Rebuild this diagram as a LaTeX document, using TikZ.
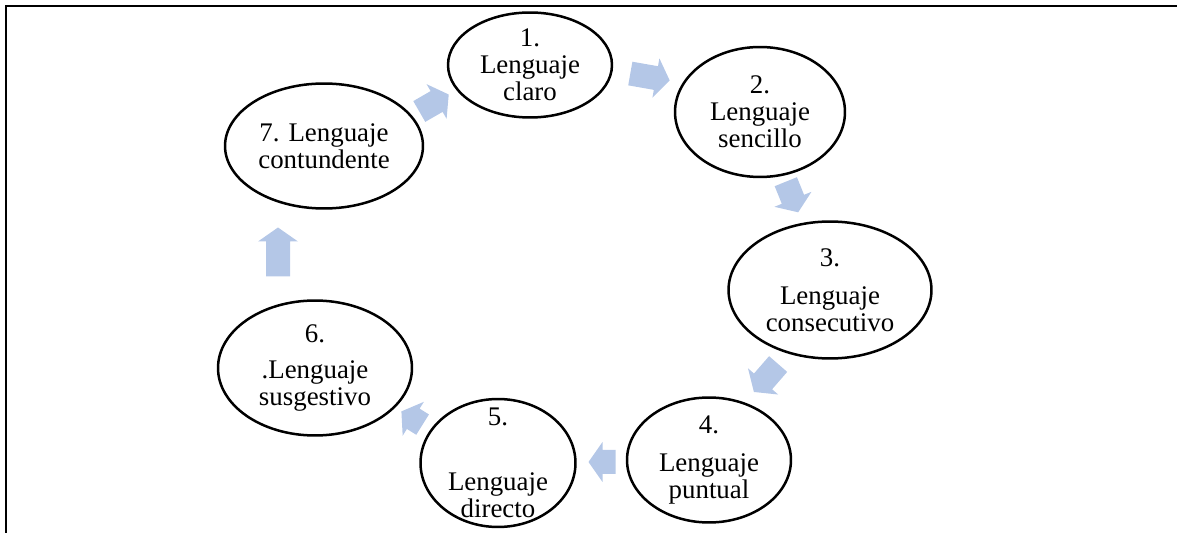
\documentclass[tikz,border=0pt]{standalone}
\usepackage{fontspec}
\setmainfont{Liberation Serif}
\definecolor{cycblue}{HTML}{B4C7E7}
\usetikzlibrary{shapes.geometric}

\tikzset{
  pics/cycarrow/.style={code={
    \fill[cycblue] (-#1/2,-12) -- (#1/2-14,-12) -- (#1/2-14,-20)
      -- (#1/2,0) -- (#1/2-14,20) -- (#1/2-14,12) -- (-#1/2,12) -- cycle;
  }}
}

\begin{document}
\begin{tikzpicture}[
  x=0.02cm, y=-0.02cm,
  bubble/.style={ellipse, draw=black, line width=0.05cm,
                 fill=white, inner sep=0pt},
  txt/.style={align=center, inner sep=0pt,
              font=\fontsize{15.3}{15.4}\selectfont}
]
  \useasboundingbox (0,0) rectangle (1177,533);
  \draw[line width=0.04cm] (6,533) -- (6,6) -- (1177,6);

  % the seven kinds of language
  \node[bubble, minimum width=3.28cm, minimum height=2.1cm,
        label={[txt]center:{1.\\Lenguaje\\claro}}] (e1) at (530,65) {};
  \node[bubble, minimum width=3.4cm, minimum height=2.6cm,
        label={[txt]center:{2.\\Lenguaje\\sencillo}}] (e2) at (760,112) {};
  \node[bubble, minimum width=4.06cm, minimum height=2.74cm,
        label={[txt]center:{3.\\[0.22cm]Lenguaje\\consecutivo}}] (e3) at (830,290) {};
  \node[bubble, minimum width=3.28cm, minimum height=2.5cm,
        label={[txt]center:{4.\\[0.22cm]Lenguaje\\puntual}}] (e4) at (709,460) {};
  \node[bubble, minimum width=3.1cm, minimum height=2.56cm,
        label={[txt]center:{5.\\[0.76cm]Lenguaje\\directo}}] (e5) at (498,463) {};
  \node[bubble, minimum width=3.88cm, minimum height=2.7cm,
        label={[txt]center:{6.\\[0.18cm].Lenguaje\\susgestivo}}] (e6) at (315,368) {};
  \node[bubble, minimum width=3.96cm, minimum height=2.5cm,
        label={[txt]center:{7. Lenguaje\\contundente}}] (e7) at (324,146) {};

  % block arrows of the cycle
  \pic[rotate=-10] (a12) at (650,77) {cycarrow=40};
  \pic[rotate=-68] (a23) at (792,197) {cycarrow=33};
  \pic[rotate=-131] (a34) at (766,378) {cycarrow=37};
  \pic[rotate=180] (a45) at (602,462) {cycarrow=27};
  \pic[rotate=148] (a56) at (412,418) {cycarrow=25};
  \pic[rotate=90] (a67) at (278,252) {cycarrow=49};
  \pic[rotate=30] (a71) at (434,103) {cycarrow=34};
\end{tikzpicture}
\end{document}
